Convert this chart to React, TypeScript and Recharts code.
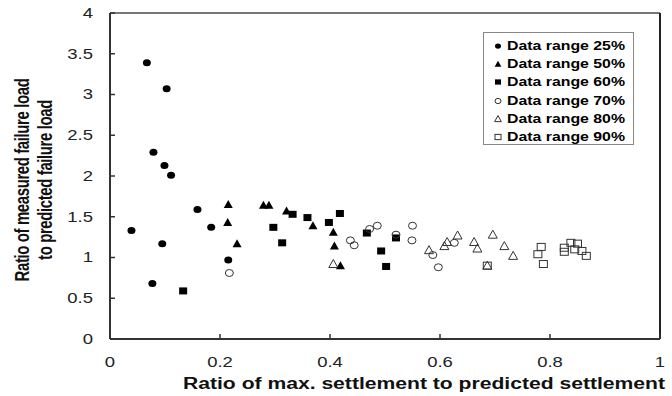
import React from 'react';
import { ScatterChart, Scatter, XAxis, YAxis, ReferenceLine, Legend, Label } from 'recharts';

// [ratio of max. settlement to predicted settlement, ratio of measured to predicted failure load]
const dr25: number[][] = [[0.039, 1.33], [0.067, 3.39], [0.077, 0.68], [0.079, 2.29], [0.095, 1.17], [0.099, 2.13], [0.103, 3.07], [0.111, 2.01], [0.159, 1.59], [0.184, 1.37], [0.215, 0.97]];
const dr50: number[][] = [[0.214, 1.43], [0.215, 1.65], [0.231, 1.17], [0.279, 1.64], [0.289, 1.64], [0.321, 1.57], [0.369, 1.39], [0.406, 1.31], [0.408, 1.14], [0.419, 0.9]];
const dr60: number[][] = [[0.133, 0.59], [0.297, 1.37], [0.313, 1.18], [0.332, 1.53], [0.359, 1.49], [0.398, 1.43], [0.418, 1.54], [0.467, 1.3], [0.493, 1.08], [0.502, 0.89], [0.52, 1.24]];
const dr70: number[][] = [[0.217, 0.81], [0.437, 1.21], [0.444, 1.15], [0.472, 1.35], [0.486, 1.39], [0.52, 1.28], [0.549, 1.21], [0.55, 1.39], [0.587, 1.03], [0.597, 0.88], [0.626, 1.18]];
const dr80: number[][] = [[0.406, 0.92], [0.58, 1.09], [0.608, 1.14], [0.613, 1.19], [0.632, 1.27], [0.662, 1.19], [0.668, 1.11], [0.686, 0.9], [0.696, 1.28], [0.717, 1.14], [0.733, 1.02]];
const dr90: number[][] = [[0.686, 0.9], [0.778, 1.04], [0.784, 1.13], [0.788, 0.92], [0.826, 1.12], [0.826, 1.07], [0.838, 1.18], [0.845, 1.1], [0.85, 1.17], [0.858, 1.08], [0.866, 1.02]];

const seriesNames = ['Data range 25%', 'Data range 50%', 'Data range 60%', 'Data range 70%', 'Data range 80%', 'Data range 90%'];
const xTicks = [0, 0.2, 0.4, 0.6, 0.8, 1];
const yTicks = [0, 0.5, 1, 1.5, 2, 2.5, 3, 3.5, 4];
const xTitle = 'Ratio of max. settlement to predicted settlement';
const yTitleLines = ['Ratio of measured failure load', 'to predicted failure load'];

const FONT = "Arial, 'Liberation Sans', sans-serif";
const TICK_OFFSET = 10; // tickSize 6 + tickMargin 4
const STRETCH = 1.32; // the reference is horizontally stretched

const toPoints = (arr: number[][]) => arr.map(([x, y]) => ({ x, y }));

type Kind = 'circle' | 'triangle' | 'square';
const kinds: Kind[] = ['circle', 'triangle', 'square', 'circle', 'triangle', 'square'];
const filled = [true, true, true, false, false, false];

function Marker({ cx, cy, kind, fill, scale = 1 }: { cx: number; cy: number; kind: Kind; fill: boolean; scale?: number }) {
  const f = fill ? '#000' : 'none';
  const s = fill ? 'none' : '#333';
  const sw = 1;
  if (kind === 'circle') {
    return <ellipse cx={cx} cy={cy} rx={4 * scale} ry={3.5 * scale} fill={f} stroke={s} strokeWidth={sw} />;
  }
  if (kind === 'triangle') {
    const pts = `${cx},${cy - 4.5 * scale} ${cx - 4.5 * scale},${cy + 3.5 * scale} ${cx + 4.5 * scale},${cy + 3.5 * scale}`;
    return <polygon points={pts} fill={f} stroke={s} strokeWidth={sw} />;
  }
  return <rect x={cx - 4 * scale} y={cy - 3.5 * scale} width={8 * scale} height={7 * scale} fill={f} stroke={s} strokeWidth={sw} />;
}

const makeShape = (i: number) => (props: any) => (
  <Marker cx={props.cx} cy={props.cy} kind={kinds[i]} fill={filled[i]} />
);

const fmt = (v: number) => String(v);

function XTick(props: any) {
  const { x, y, payload } = props;
  const axisY = y - TICK_OFFSET;
  return (
    <g>
      <line x1={x} x2={x} y1={axisY} y2={axisY - 5} stroke="#333" strokeWidth={1.5} />
      <text
        transform={`translate(${x}, ${axisY + 28}) scale(${STRETCH}, 1)`}
        x={0}
        y={0}
        textAnchor="middle"
        fontSize={14}
        fill="#222"
        fontFamily={FONT}
      >
        {fmt(payload.value)}
      </text>
    </g>
  );
}

function YTick(props: any) {
  const { x, y, payload } = props;
  const axisX = x + TICK_OFFSET;
  return (
    <g>
      <line x1={axisX} x2={axisX + 5} y1={y} y2={y} stroke="#333" strokeWidth={1.5} />
      <text
        transform={`translate(${axisX - 17}, ${y}) scale(${STRETCH}, 1)`}
        x={0}
        y={0}
        dy="0.35em"
        textAnchor="end"
        fontSize={14}
        fill="#222"
        fontFamily={FONT}
      >
        {fmt(payload.value)}
      </text>
    </g>
  );
}

function XTitle(props: any) {
  const vb = props.viewBox || { x: 0, y: 0, width: 0, height: 0 };
  const cx = vb.x + vb.width / 2 + 39;
  const by = vb.y + vb.height - 7;
  return (
    <text
      x={cx}
      y={by}
      textAnchor="middle"
      fontSize={16}
      fontWeight="bold"
      fill="#111"
      fontFamily={FONT}
      textLength={482}
      lengthAdjust="spacingAndGlyphs"
    >
      {xTitle}
    </text>
  );
}

function YTitle(props: any) {
  const vb = props.viewBox || { x: 0, y: 0, width: 0, height: 0 };
  const cy = vb.y + vb.height / 2 + 4;
  const xs = [vb.x - 28, vb.x - 5];
  return (
    <g>
      {yTitleLines.map((line, i) => (
        <text
          key={i}
          transform={`translate(${xs[i]}, ${cy}) rotate(-90) scale(1, ${STRETCH})`}
          x={0}
          y={0}
          textAnchor="middle"
          dominantBaseline="central"
          fontSize={15}
          fontWeight="bold"
          fill="#111"
          fontFamily={FONT}
          letterSpacing={-0.4}
        >
          {line}
        </text>
      ))}
    </g>
  );
}

function LegendBox() {
  return (
    <div
      style={{
        width: 140,
        height: 107,
        border: '1px solid #888',
        background: '#fff',
        paddingTop: 4,
        paddingLeft: 9,
        boxSizing: 'content-box',
        fontFamily: FONT,
        fontSize: 12,
        fontWeight: 'bold',
        color: '#000',
        textAlign: 'left',
      }}
    >
      {seriesNames.map((name, i) => (
        <div key={name} style={{ height: 18.2, lineHeight: '18.2px', display: 'flex', alignItems: 'center', whiteSpace: 'nowrap' }}>
          <svg width={10} height={10} style={{ marginRight: 4, flex: 'none' }}>
            <Marker cx={5} cy={5} kind={kinds[i]} fill={filled[i]} scale={0.75} />
          </svg>
          <span style={{ display: 'inline-block', transform: `scaleX(${STRETCH})`, transformOrigin: 'left center' }}>{name}</span>
        </div>
      ))}
    </div>
  );
}

const allSeries = [dr25, dr50, dr60, dr70, dr80, dr90];

export default function App() {
  return (
    <div style={{ position: 'absolute', left: 0, top: 0, width: 672, height: 396, background: '#fff' }}>
      <ScatterChart width={672} height={396} margin={{ top: 13, right: 12, bottom: 0, left: 50 }} style={{ fontFamily: FONT }}>
        <XAxis
          type="number"
          dataKey="x"
          domain={[0, 1]}
          ticks={xTicks}
          height={57}
          tickSize={6}
          tickMargin={4}
          tickLine={false}
          tick={<XTick />}
          axisLine={{ stroke: '#333', strokeWidth: 2 }}
          allowDataOverflow
        >
          <Label content={<XTitle />} />
        </XAxis>
        <YAxis
          type="number"
          dataKey="y"
          domain={[0, 4]}
          ticks={yTicks}
          width={60}
          tickSize={6}
          tickMargin={4}
          tickLine={false}
          tick={<YTick />}
          axisLine={{ stroke: '#333', strokeWidth: 2 }}
          allowDataOverflow
        >
          <Label content={<YTitle />} />
        </YAxis>
        <ReferenceLine y={4} stroke="#777" strokeWidth={2} />
        <ReferenceLine x={1} stroke="#222" strokeWidth={2} />
        <Legend
          layout="horizontal"
          align="center"
          verticalAlign="middle"
          content={<LegendBox />}
          wrapperStyle={{ position: 'absolute', left: 483, top: 32, width: 'auto', height: 'auto' }}
        />
        {allSeries.map((arr, i) => (
          <Scatter key={seriesNames[i]} name={seriesNames[i]} data={toPoints(arr)} shape={makeShape(i)} isAnimationActive={false} />
        ))}
      </ScatterChart>
    </div>
  );
}
